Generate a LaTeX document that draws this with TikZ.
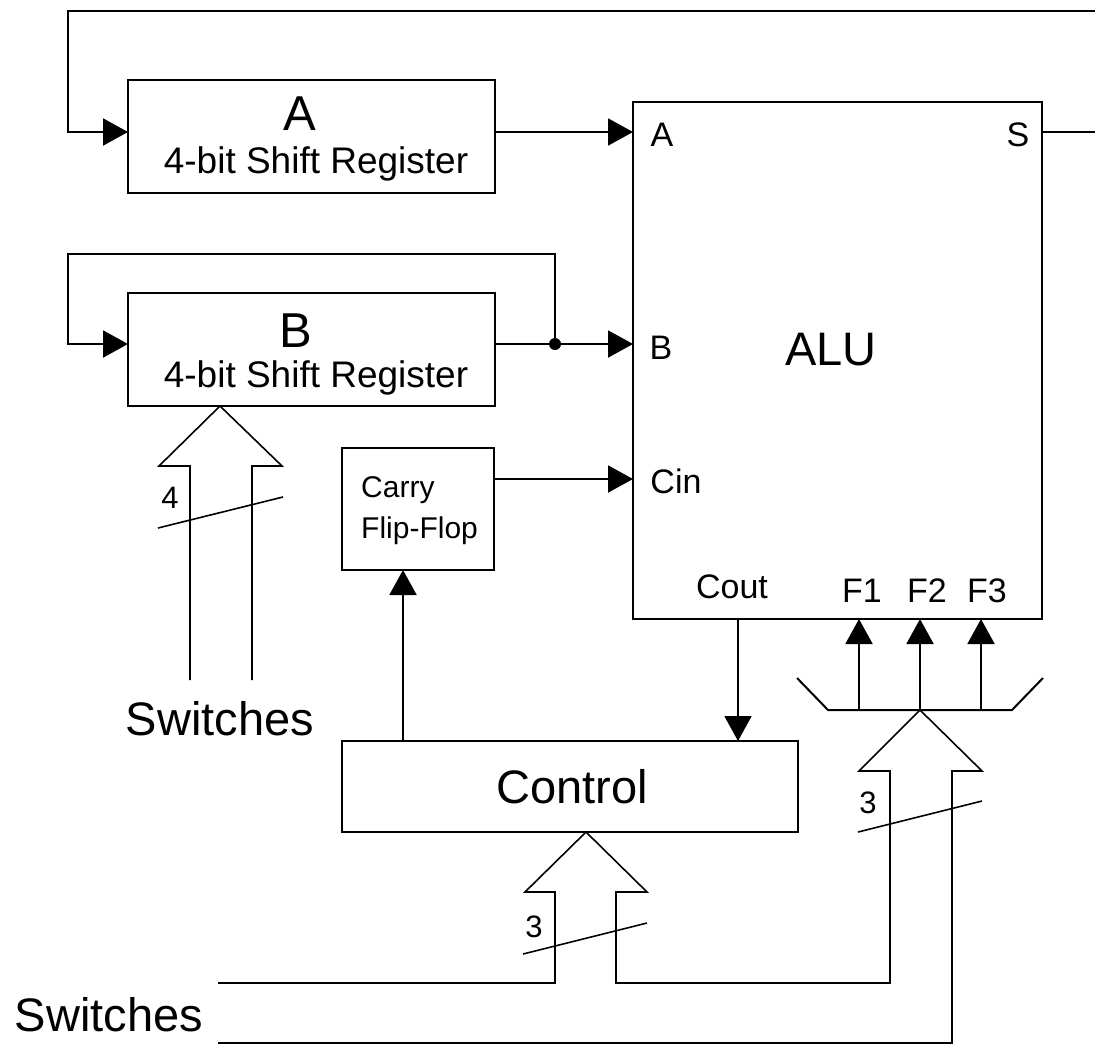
\documentclass[tikz,border=0pt]{standalone}
\usepackage{fontspec}
\setmainfont{Liberation Sans}
\usetikzlibrary{arrows.meta}

\begin{document}
\begin{tikzpicture}[x=1pt, y=-1pt,
	box/.style={draw, line width=2pt, inner sep=0pt, outer sep=0pt},
	wire/.style={line width=2pt},
	feed/.style={wire, -{Triangle[length=25pt, width=27pt]}},
	wide/.style={line width=1.6pt, line join=miter},
	lbl/.style={anchor=base, inner sep=0pt},
	huge/.style={lbl, font=\fontsize{47}{56}\selectfont},
	regname/.style={lbl, font=\fontsize{49}{58}\selectfont},
	regtext/.style={lbl, font=\fontsize{37}{44}\selectfont},
	port/.style={lbl, font=\fontsize{34}{40}\selectfont},
	ffname/.style={lbl, anchor=base west, font=\fontsize{30}{36}\selectfont},
	width/.style={lbl, font=\fontsize{31}{36}\selectfont}
]
	\useasboundingbox (0,0) rectangle (1095,1045);
	
	% blocks
	\node [box, minimum width=367pt, minimum height=113pt] at (311.5,136.5) (regA) {};
	\node [box, minimum width=367pt, minimum height=113pt] at (311.5,349.5) (regB) {};
	\node [box, minimum width=409pt, minimum height=517pt] at (837.5,360.5) (alu) {};
	\node [box, minimum width=152pt, minimum height=122pt] at (418,509) (carry) {};
	\node [box, minimum width=456pt, minimum height=91pt] at (570,786.5) (control) {};
	
	\node [regname] at (300,130) (regAname) {A};
	\node [regtext] at (316,173) (regAtext) {4-bit Shift Register};
	\node [regname] at (296,347) (regBname) {B};
	\node [regtext] at (316,387) (regBtext) {4-bit Shift Register};
	\node [huge] at (831,365) (aluname) {ALU};
	\node [huge] at (572,803) (controlname) {Control};
	\node [ffname] at (361,497) (carrya) {Carry};
	\node [ffname] at (361,538) (carryb) {Flip-Flop};
	\node [huge] at (220,735) (swB) {Switches};
	\node [huge] at (109,1031) (swCtl) {Switches};
	
	\foreach \x/\y/\name/\txt in {
		662/146/portA/A,
		1018/146/portS/S,
		661/359/portB/B,
		676/493/portCin/Cin,
		732/598/portCout/Cout,
		862/602/portFa/F1,
		927/602/portFb/F2,
		987/602/portFc/F3
	}
	{
		\node [port] at (\x,\y) (\name) {\txt};
	}
	
	% ports on the ALU edges
	\coordinate (aluA) at (633,132);
	\coordinate (aluB) at (633,344);
	\coordinate (aluCin) at (633,479);
	\coordinate (aluS) at (1042,132);
	\coordinate (aluCout) at (738,619);
	\coordinate (edgeS) at (1095,132);
	\coordinate (edgeTop) at (1095,11);
	\coordinate (bDot) at (555,344);
	\coordinate (ctlUp) at (403,741);
	\coordinate (swCtlA) at (218,983);
	\coordinate (swCtlB) at (218,1043);
	
	% data paths
	\draw [wire] (aluS) -- (edgeS);
	\draw [feed] (edgeTop) -- (68,11) -- (68,132) -- (regA.west |- aluA);
	\draw [feed] (regA.east |- aluA) -- (aluA);
	\draw [feed] (regB.east |- aluB) -- (aluB);
	\draw [feed] (bDot) -- (555,254) -- (68,254) -- (68,344) -- (regB.west |- aluB);
	\fill (bDot) circle (6pt);
	\draw [feed] (carry.east |- aluCin) -- (aluCin);
	\draw [feed] (ctlUp) -- (ctlUp |- carry.south);
	\draw [feed] (aluCout) -- (aluCout |- control.north);
	
	% function select
	\draw [wire] (797,678) -- (828,710) -- (1012,710) -- (1043,678);
	\foreach \x/\n in {859/a, 920/b, 981/c}
	{
		\coordinate (tapF\n) at (\x,710);
		\coordinate (aluF\n) at (\x,619);
		\draw [feed] (tapF\n) -- (aluF\n);
	}
	
	% switch buses
	\draw [wide] (190,680) -- (190,466) -- (159,466) -- (regB.south -| 220,0) -- (282,466) -- (252,466) -- (252,680);
	\draw [wide] (158,528) -- (283,497);
	\node [width] at (170,508) (wB) {4};
	
	\draw [wide] (swCtlA) -- (555,983) -- (555,892) -- (525,892) -- (control.south -| 586,0) -- (647,892) -- (616,892) -- (616,983)
		-- (890,983) -- (890,771) -- (859,771) -- (tapFb) -- (982,771) -- (952,771) -- (952,1043) -- (swCtlB);
	\draw [wide] (523,954) -- (647,923);
	\node [width] at (534,937) (wCtl) {3};
	\draw [wide] (858,832) -- (982,801);
	\node [width] at (868,813) (wF) {3};
\end{tikzpicture}
\end{document}
